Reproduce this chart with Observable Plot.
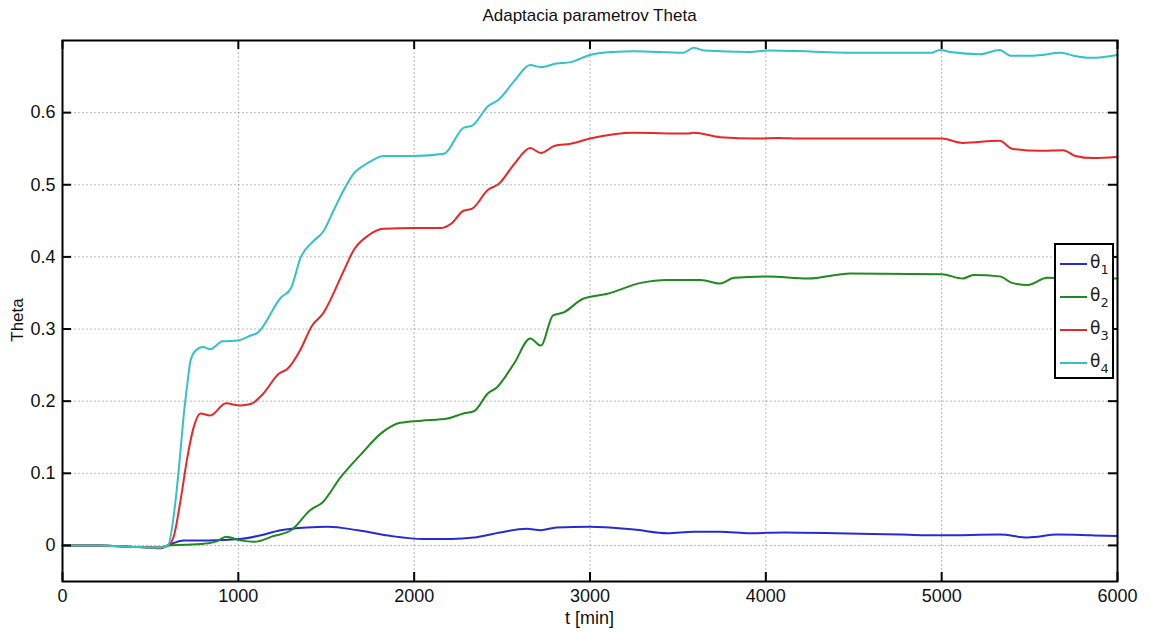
<!DOCTYPE html>
<html>
<head>
<meta charset="utf-8">
<script src="https://cdn.jsdelivr.net/npm/d3@7"></script>
<script src="https://cdn.jsdelivr.net/npm/@observablehq/plot@0.6"></script>
<style>
  html, body { margin: 0; padding: 0; background: #fff; }
  #wrap { position: relative; width: 1150px; height: 633px; font-family: "Liberation Sans", Arial, Helvetica, sans-serif; color: #111; overflow: hidden; }
  #chart { position: absolute; left: 0; top: 0; }
  .lbl { position: absolute; white-space: nowrap; }
  #title { left: 62px; width: 1055px; top: 6px; text-align: center; font-size: 17px; }
  #xlabel { left: 62px; width: 1055px; top: 608px; text-align: center; font-size: 18px; }
  #ylabel { left: 18px; top: 320px; font-size: 17px; transform: translate(-50%, -50%) rotate(-90deg); }
  #legend { position: absolute; left: 1054px; top: 243px; width: 56px; height: 132px; border: 2px solid #000; background: #fff; }
  .entry { position: absolute; left: 4px; height: 20px; }
  .entry .sw { position: absolute; left: 0; top: 9px; width: 27px; height: 0; border-top: 2px solid; }
  .entry .tx { position: absolute; left: 30px; top: -2px; font-family: "DejaVu Sans", "Liberation Sans", sans-serif; font-size: 17px; line-height: 20px; color: #222; }
  .entry .tx sub { font-size: 13px; vertical-align: -6px; line-height: 0; }
</style>
</head>
<body>
<div id="wrap">
  <div id="chart"></div>
  <div id="title" class="lbl">Adaptacia parametrov Theta</div>
  <div id="xlabel" class="lbl">t [min]</div>
  <div id="ylabel" class="lbl">Theta</div>
  <div id="legend"></div>
</div>
<script>
// ---- data ----
const seriesNames = ["θ1", "θ2", "θ3", "θ4"];
const seriesSubs = ["1", "2", "3", "4"];
const seriesColors = ["#2a2ad4", "#1f8a1f", "#e62828", "#35c2c2"];

const xTicks = [0, 1000, 2000, 3000, 4000, 5000, 6000];
const yTicks = [0, 0.1, 0.2, 0.3, 0.4, 0.5, 0.6];

// theta1 (blue)
const t1 = [0,200,400,500,560,600,690,830,1010,1110,1240,1390,1510,1680,1870,2050,2210,2340,2490,2640,2720,2810,3000,3250,3440,3590,3740,3910,4100,4400,4770,5000,5330,5490,5660,5850,6000];
const v1 = [0,0,-0.002,-0.003,-0.004,0,0.007,0.007,0.009,0.013,0.021,0.025,0.026,0.021,0.013,0.009,0.009,0.011,0.018,0.023,0.021,0.025,0.026,0.022,0.017,0.019,0.019,0.017,0.018,0.017,0.015,0.014,0.015,0.011,0.015,0.014,0.013];

// theta2 (green)
const t2 = [0,200,400,560,600,700,830,880,930,1010,1090,1200,1300,1410,1480,1580,1700,1810,1920,2040,2190,2280,2340,2420,2470,2570,2660,2720,2790,2850,2960,3100,3290,3440,3630,3740,3820,4010,4240,4480,5000,5120,5180,5330,5400,5490,5600,5750,6000];
const v2 = [0,0,-0.002,-0.003,0,0.001,0.003,0.006,0.012,0.007,0.005,0.013,0.021,0.049,0.060,0.094,0.127,0.155,0.170,0.173,0.176,0.183,0.186,0.211,0.219,0.253,0.287,0.277,0.319,0.323,0.342,0.349,0.364,0.368,0.368,0.363,0.371,0.373,0.370,0.377,0.376,0.370,0.375,0.373,0.364,0.361,0.371,0.370,0.370];

// theta3 (red)
const t3 = [0,200,400,560,600,631,671,710,745,785,840,930,1010,1070,1140,1230,1280,1350,1420,1480,1600,1655,1735,1826,2000,2150,2210,2280,2330,2420,2480,2570,2660,2720,2800,2890,3000,3250,3550,3590,3740,3950,4070,4200,4580,5000,5120,5330,5400,5560,5690,5760,5860,6000];
const v3 = [0,0,-0.002,-0.003,0,0.011,0.062,0.122,0.163,0.183,0.180,0.197,0.194,0.196,0.210,0.238,0.245,0.270,0.305,0.321,0.381,0.409,0.429,0.439,0.440,0.440,0.446,0.464,0.467,0.493,0.501,0.529,0.551,0.544,0.554,0.557,0.564,0.572,0.571,0.572,0.566,0.564,0.565,0.564,0.564,0.564,0.558,0.561,0.550,0.547,0.548,0.540,0.537,0.539];

// theta4 (cyan)
const t4 = [0,200,400,560,600,643,671,688,710,728,756,800,840,910,995,1070,1110,1240,1300,1354,1428,1485,1541,1598,1655,1735,1826,1996,2170,2280,2330,2420,2480,2570,2660,2720,2810,2890,3000,3130,3250,3530,3590,3650,3910,4010,4540,4940,4990,5050,5220,5330,5390,5520,5680,5750,5850,6000];
const v4 = [0,0,-0.002,-0.003,0,0.062,0.131,0.177,0.224,0.256,0.270,0.275,0.272,0.283,0.284,0.291,0.295,0.343,0.357,0.399,0.422,0.436,0.464,0.492,0.515,0.530,0.540,0.540,0.543,0.579,0.582,0.609,0.618,0.644,0.666,0.663,0.668,0.670,0.680,0.684,0.685,0.683,0.690,0.686,0.684,0.686,0.683,0.683,0.687,0.684,0.681,0.687,0.679,0.679,0.683,0.679,0.676,0.680];

const ts = [t1, t2, t3, t4];
const vs = [v1, v2, v3, v4];
const rows = seriesNames.flatMap((name, k) => ts[k].map((t, i) => ({series: name, t, v: vs[k][i]})));

const W = 1150, H = 633, ML = 62, MR = 33, MT = 40, MB = 52;
const plotW = W - ML - MR, plotH = H - MT - MB, TICK = 9;
const axisFont = {fontSize: 18};

const chart = Plot.plot({
  width: W,
  height: H,
  marginLeft: ML,
  marginRight: MR,
  marginTop: MT,
  marginBottom: MB,
  style: {fontFamily: '"Liberation Sans", Arial, Helvetica, sans-serif', fontSize: "18px", color: "#111", background: "#fff"},
  x: {domain: [0, 6000]},
  y: {domain: [-0.05, 0.7]},
  color: {domain: seriesNames, range: seriesColors},
  marks: [
    Plot.gridX(xTicks, {stroke: "#777", strokeOpacity: 0.5, strokeDasharray: "2,2", strokeWidth: 1}),
    Plot.gridY(yTicks, {stroke: "#777", strokeOpacity: 0.5, strokeDasharray: "2,2", strokeWidth: 1}),
    Plot.line(rows, {x: "t", y: "v", z: "series", stroke: "series", strokeWidth: 2, curve: "monotone-x"}),
    Plot.frame({stroke: "#000", strokeWidth: 2}),
    Plot.axisX(xTicks, {anchor: "bottom", tickSize: 0, tickPadding: 8, label: null, tickFormat: d => String(d), ...axisFont}),
    Plot.axisY(yTicks, {anchor: "left", tickSize: 0, tickPadding: 7, label: null, tickFormat: d => d === 0 ? "0" : d3.format(".1f")(d), ...axisFont}),
    // inward ticks (Matlab style)
    Plot.tickX(xTicks, {x: d => d, stroke: "#000", strokeWidth: 2, insetTop: plotH - TICK}),
    Plot.tickX(xTicks, {x: d => d, stroke: "#000", strokeWidth: 2, insetBottom: plotH - TICK}),
    Plot.tickY(yTicks, {y: d => d, stroke: "#000", strokeWidth: 2, insetRight: plotW - TICK}),
    Plot.tickY(yTicks, {y: d => d, stroke: "#000", strokeWidth: 2, insetLeft: plotW - TICK})
  ]
});
document.getElementById("chart").appendChild(chart);

// legend
const legend = document.getElementById("legend");
seriesNames.forEach((name, i) => {
  const e = document.createElement("div");
  e.className = "entry";
  e.style.top = (9 + i * 33) + "px";
  const sw = document.createElement("div");
  sw.className = "sw";
  sw.style.borderTopColor = seriesColors[i];
  const tx = document.createElement("div");
  tx.className = "tx";
  tx.innerHTML = "θ<sub>" + seriesSubs[i] + "</sub>";
  e.appendChild(sw);
  e.appendChild(tx);
  legend.appendChild(e);
});
</script>
</body>
</html>
